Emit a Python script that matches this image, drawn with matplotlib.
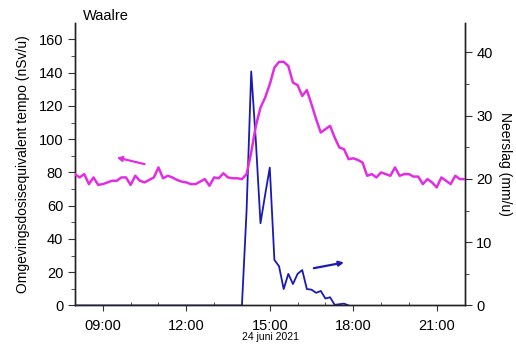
import matplotlib
matplotlib.use("Agg")
import matplotlib.pyplot as plt
import matplotlib.dates as mdates
import pandas as pd

plt.rcParams['font.family'] = ['Liberation Sans', 'DejaVu Sans']

title = "Waalre"
xlabel = "24 juni 2021"
ylabel_left = "Omgevingsdosisequivalent tempo (nSv/u)"
ylabel_right = "Neerslag (mm/u)"

dose_start = "2021-06-24 08:00"
dose_values = [
    79, 77, 79, 73, 77, 72.5,
    73, 74, 75, 75, 77, 77,
    72.5, 78, 75, 74, 75.5, 77,
    83, 76.5, 78, 77, 75.5, 74.5,
    74, 73, 73, 74.5, 76, 72,
    77, 76.5, 79.5, 77, 76.5, 76.5,
    76, 79, 92, 108, 119, 125,
    133, 143, 146.5, 146.5, 144, 134,
    132.5, 126, 129.5, 121, 112, 104,
    106, 108, 101, 95, 94, 88,
    88.5, 87.5, 86, 78, 79, 77,
    80, 79, 78, 83, 78, 79,
    79, 77.5, 77.5, 73, 76, 74,
    71, 77, 75, 73, 78, 76,
    76,
]

rain_start = "2021-06-24 08:00"
rain_values = [
    0, 0, 0, 0, 0, 0,
    0, 0, 0, 0, 0, 0,
    0, 0, 0, 0, 0, 0,
    0, 0, 0, 0, 0, 0,
    0, 0, 0, 0, 0, 0,
    0, 0, 0, 0, 0, 0,
    0, 15, 37, 26, 13, 17.5,
    21.8, 7.2, 6.2, 2.6, 5.0, 3.4,
    5.0, 5.6, 2.6, 2.5, 2.0, 2.3,
    1.1, 1.3, 0.1, 0.2, 0.3, 0.0,
]

dose_t = pd.date_range(dose_start, periods=len(dose_values), freq="10min")
rain_t = pd.date_range(rain_start, periods=len(rain_values), freq="10min")

magenta = "#e22ee2"
blue = "#1a1ab4"

fig = plt.figure(figsize=(5.16, 3.45), dpi=100)
ax = fig.add_axes([0.1453, 0.1145, 0.755, 0.8195])
ax2 = ax.twinx()

ax.plot(dose_t, dose_values, color=magenta, lw=1.8, zorder=3)
ax2.plot(rain_t, rain_values, color=blue, lw=1.3, zorder=2)

ax.set_zorder(ax2.get_zorder() + 1)
ax.patch.set_visible(False)

ax.set_xlim(pd.Timestamp("2021-06-24 08:00"), pd.Timestamp("2021-06-24 22:00"))
ax.set_ylim(0, 170)
ax2.set_ylim(0, 44.7)

ax.xaxis.set_major_locator(mdates.HourLocator(byhour=[9, 12, 15, 18, 21]))
ax.xaxis.set_minor_locator(mdates.HourLocator())
ax.xaxis.set_major_formatter(mdates.DateFormatter("%H:%M"))
ax.set_yticks([0, 20, 40, 60, 80, 100, 120, 140, 160])
ax.set_yticks(range(10, 170, 20), minor=True)
ax2.set_yticks([0, 10, 20, 30, 40])
ax2.set_yticks([5, 15, 25, 35], minor=True)

for a in (ax, ax2):
    a.spines['top'].set_visible(False)
    for s in a.spines.values():
        s.set_color('#222222')
        s.set_linewidth(1.0)

ax.tick_params(axis='x', which='major', direction='out', length=4, labelsize=10.5, pad=6, color='#333333')
ax.tick_params(axis='x', which='minor', direction='in', length=2.5, color='#333333')
ax.tick_params(axis='y', which='major', direction='out', length=5, labelsize=10.5, color='#333333')
ax.tick_params(axis='y', which='minor', direction='out', length=3, color='#333333')
ax2.tick_params(axis='y', which='major', direction='out', length=5, labelsize=10.5, color='#333333')
ax2.tick_params(axis='y', which='minor', direction='out', length=3, color='#333333')

ax.set_ylabel(ylabel_left, fontsize=10, labelpad=6)
ax2.set_ylabel(ylabel_right, fontsize=10, rotation=270, labelpad=14)

fig.text(270 / 516, 1 - 337 / 345, xlabel, fontsize=7.5, ha='center', va='center')
fig.text(83 / 516, 1 - 16 / 345, title, fontsize=10.5, ha='left', va='center')

# arrows pointing to the matching axis
ax.annotate("", xy=(pd.Timestamp("2021-06-24 09:30"), 89),
            xytext=(pd.Timestamp("2021-06-24 10:30"), 85),
            arrowprops=dict(arrowstyle='-|>', color=magenta, lw=1.6,
                            mutation_scale=7, shrinkA=0, shrinkB=0))
ax2.annotate("", xy=(pd.Timestamp("2021-06-24 17:40"), 6.8),
             xytext=(pd.Timestamp("2021-06-24 16:35"), 5.9),
             arrowprops=dict(arrowstyle='-|>', color=blue, lw=1.6,
                             mutation_scale=7, shrinkA=0, shrinkB=0))

fig.savefig("out.png", dpi=100)
